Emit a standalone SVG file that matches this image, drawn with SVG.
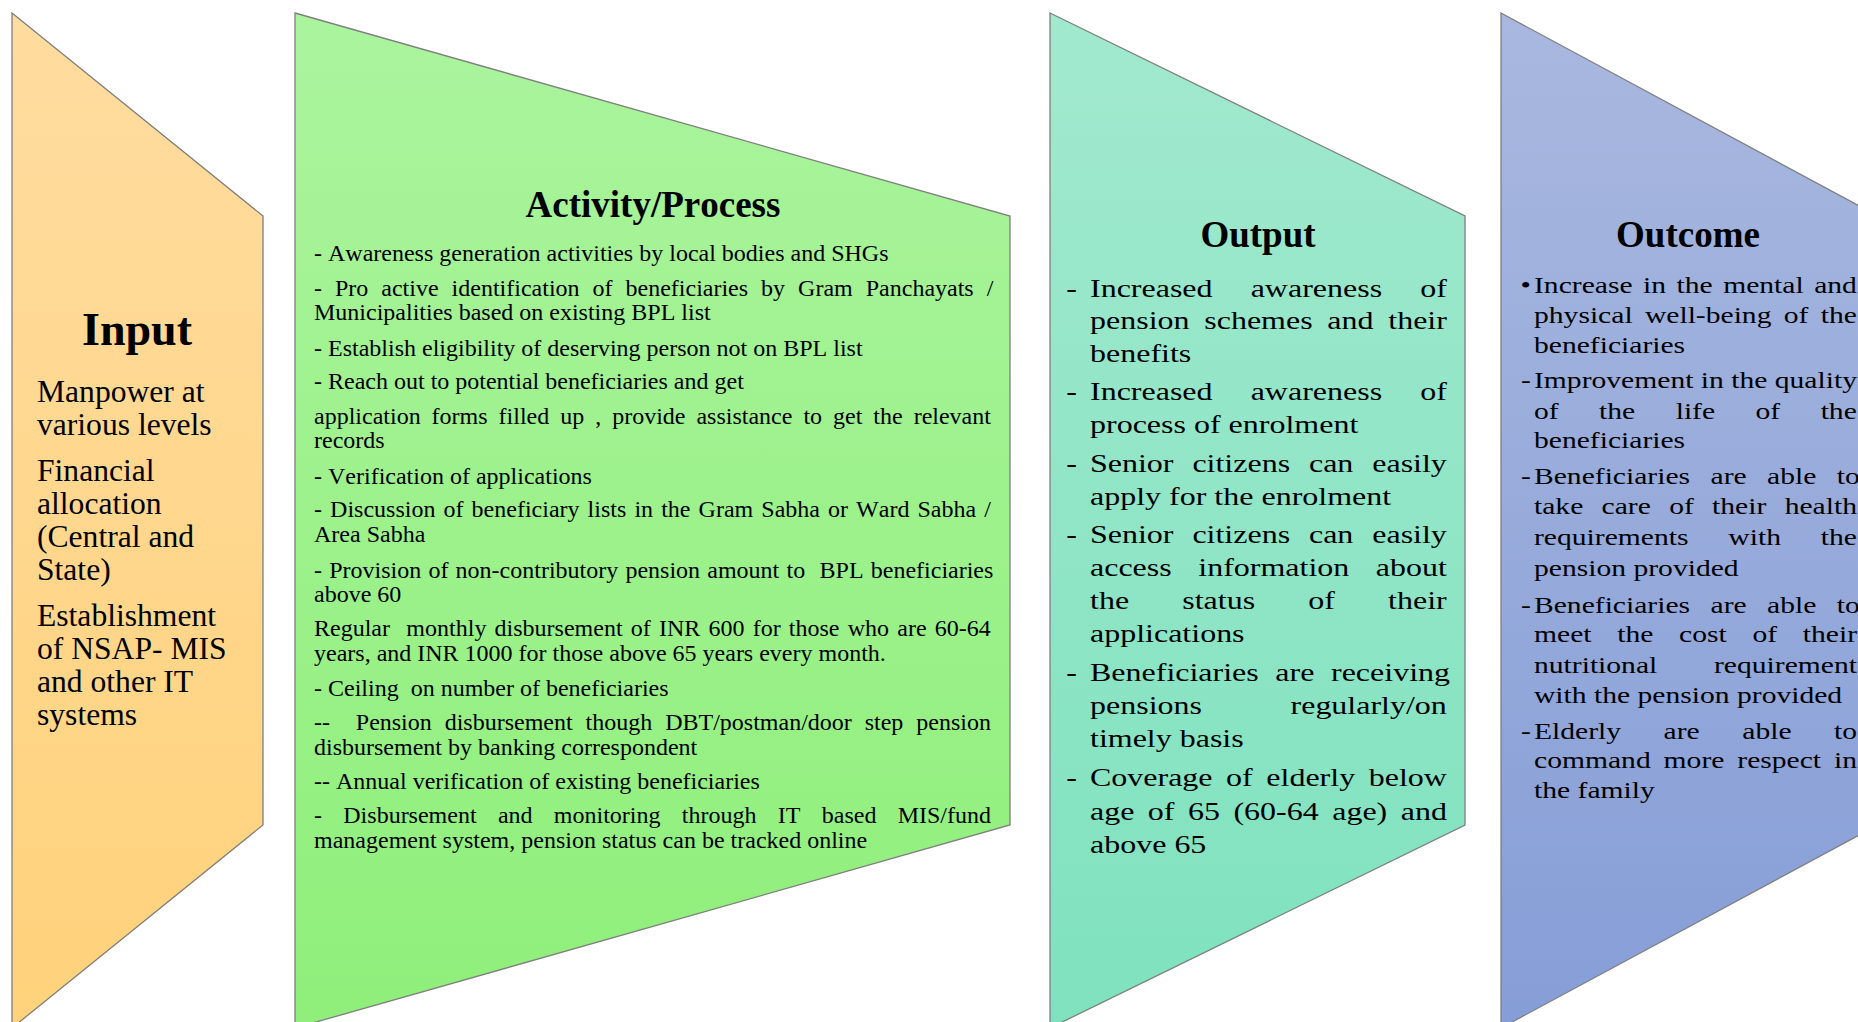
<svg xmlns="http://www.w3.org/2000/svg" width="1858" height="1022" viewBox="0 0 1858 1022">
  <defs>
    <linearGradient id="gInput" gradientUnits="userSpaceOnUse" x1="0" y1="0" x2="0" y2="1022">
      <stop offset="0" stop-color="#FFDCA0"/>
      <stop offset="1" stop-color="#FFD27B"/>
    </linearGradient>
    <linearGradient id="gActivity" gradientUnits="userSpaceOnUse" x1="0" y1="0" x2="0" y2="1022">
      <stop offset="0" stop-color="#ABF49E"/>
      <stop offset="1" stop-color="#8FEF7A"/>
    </linearGradient>
    <linearGradient id="gOutput" gradientUnits="userSpaceOnUse" x1="0" y1="0" x2="0" y2="1022">
      <stop offset="0" stop-color="#A2E9CE"/>
      <stop offset="1" stop-color="#7FE2BF"/>
    </linearGradient>
    <linearGradient id="gOutcome" gradientUnits="userSpaceOnUse" x1="0" y1="0" x2="0" y2="1022">
      <stop offset="0" stop-color="#A9B8DF"/>
      <stop offset="1" stop-color="#869ED7"/>
    </linearGradient>
  </defs>
  <style>
    .shape { stroke: #7F7F7F; stroke-width: 1.3; }
    text { font-family: "Liberation Serif", "Times New Roman", serif; fill: #000; font-kerning: none; font-variant-ligatures: none; }
    .title { font-weight: bold; font-size: 37px; text-anchor: middle; }
    .in { font-size: 31.6px; }
    .act { font-size: 24px; }
    .out { font-size: 25.5px; }
    .oc { font-size: 24px; }
    .pre { white-space: pre; }
  </style>

  <!-- stage shapes: slanted panels pointing right -->
  <g id="input">
    <polygon class="shape" fill="url(#gInput)" points="12,13 263,216 263,825 12,1028"/>
    <text class="title" x="137" y="345" style="font-size:46px">Input</text>
    <text class="in" x="37" y="402">Manpower at</text>
    <text class="in" x="37" y="435">various levels</text>
    <text class="in" x="37" y="481">Financial</text>
    <text class="in" x="37" y="514">allocation</text>
    <text class="in" x="37" y="547">(Central and</text>
    <text class="in" x="37" y="580">State)</text>
    <text class="in" x="37" y="626">Establishment</text>
    <text class="in" x="37" y="659">of NSAP- MIS</text>
    <text class="in" x="37" y="692">and other IT</text>
    <text class="in" x="37" y="725">systems</text>
  </g>

  <g id="activity">
    <polygon class="shape" fill="url(#gActivity)" points="295,13 1010,216 1010,825 295,1028"/>
    <text class="title" x="653" y="217">Activity/Process</text>
    <text class="act" x="314" y="261">- Awareness generation activities by local bodies and SHGs</text>
    <text class="act" x="314" y="296" style="word-spacing:6.99px">- Pro active identification of beneficiaries by Gram Panchayats /</text>
    <text class="act" x="314" y="320">Municipalities based on existing BPL list</text>
    <text class="act" x="314" y="356">- Establish eligibility of deserving person not on BPL list</text>
    <text class="act" x="314" y="389">- Reach out to potential beneficiaries and get</text>
    <text class="act" x="314" y="424" style="word-spacing:4.98px">application forms filled up , provide assistance to get the relevant</text>
    <text class="act" x="314" y="448">records</text>
    <text class="act" x="314" y="484">- Verification of applications</text>
    <text class="act" x="314" y="517" style="word-spacing:2.09px">- Discussion of beneficiary lists in the Gram Sabha or Ward Sabha /</text>
    <text class="act" x="314" y="542">Area Sabha</text>
    <text class="act pre" x="314" y="578" style="word-spacing:1.2px">- Provision of non-contributory pension amount to  BPL beneficiaries</text>
    <text class="act" x="314" y="602">above 60</text>
    <text class="act pre" x="314" y="636" style="word-spacing:2.2px">Regular  monthly disbursement of INR 600 for those who are 60-64</text>
    <text class="act" x="314" y="661">years, and INR 1000 for those above 65 years every month.</text>
    <text class="act pre" x="314" y="696">- Ceiling  on number of beneficiaries</text>
    <text class="act pre" x="314" y="730" style="word-spacing:6.9px">--  Pension disbursement though DBT/postman/door step pension</text>
    <text class="act" x="314" y="755">disbursement by banking correspondent</text>
    <text class="act" x="314" y="789">-- Annual verification of existing beneficiaries</text>
    <text class="act" x="314" y="823" style="word-spacing:15.3px">- Disbursement and monitoring through IT based MIS/fund</text>
    <text class="act" x="314" y="848">management system, pension status can be tracked online</text>
  </g>

  <g id="output">
    <polygon class="shape" fill="url(#gOutput)" points="1050,13 1465,216 1465,825 1050,1028"/>
    <text class="title" x="1258" y="247">Output</text>
    <g transform="translate(1090 0) scale(1.255 1)">
      <text class="out" x="-19" y="297">-</text>
      <text class="out" x="0" y="297" style="word-spacing:24px">Increased awareness of</text>
      <text class="out" x="0" y="329.5" style="word-spacing:5.37px">pension schemes and their</text>
      <text class="out" x="0" y="362">benefits</text>
      <text class="out" x="-19" y="400.5">-</text>
      <text class="out" x="0" y="400.5" style="word-spacing:24px">Increased awareness of</text>
      <text class="out" x="0" y="433.5">process of enrolment</text>
      <text class="out" x="-19" y="472">-</text>
      <text class="out" x="0" y="472" style="word-spacing:8.67px">Senior citizens can easily</text>
      <text class="out" x="0" y="505.5">apply for the enrolment</text>
      <text class="out" x="-19" y="543.5">-</text>
      <text class="out" x="0" y="543.5" style="word-spacing:8.67px">Senior citizens can easily</text>
      <text class="out" x="0" y="576.5" style="word-spacing:14.8px">access information about</text>
      <text class="out" x="0" y="609.5" style="word-spacing:36px">the status of their</text>
      <text class="out" x="0" y="642.5">applications</text>
      <text class="out" x="-19" y="681">-</text>
      <text class="out" x="0" y="681" style="word-spacing:6.87px">Beneficiaries are receiving</text>
      <text class="out" x="0" y="714.5" style="word-spacing:64.2px">pensions regularly/on</text>
      <text class="out" x="0" y="747.5">timely basis</text>
      <text class="out" x="-19" y="786">-</text>
      <text class="out" x="0" y="786" style="word-spacing:4.43px">Coverage of elderly below</text>
      <text class="out" x="0" y="820" style="word-spacing:4.36px">age of 65 (60-64 age) and</text>
      <text class="out" x="0" y="853">above 65</text>
    </g>
  </g>

  <g id="outcome">
    <polygon class="shape" fill="url(#gOutcome)" points="1501,13 1878,216 1878,825 1501,1028"/>
    <text class="title" x="1688" y="247">Outcome</text>
    <g transform="translate(1534 0) scale(1.233 1)">
      <text class="oc" x="-11" y="293.5">•</text>
      <text class="oc" x="0" y="293.5" style="word-spacing:2.5px">Increase in the mental and</text>
      <text class="oc" x="0" y="323.5" style="word-spacing:4px">physical well-being of the</text>
      <text class="oc" x="0" y="353.5">beneficiaries</text>
      <text class="oc" x="-10.5" y="388.5">-</text>
      <text class="oc" x="0" y="388.5">Improvement in the quality</text>
      <text class="oc" x="0" y="419" style="word-spacing:26.8px">of the life of the</text>
      <text class="oc" x="0" y="448.5">beneficiaries</text>
      <text class="oc" x="-10.5" y="484">-</text>
      <text class="oc" x="0" y="484" style="word-spacing:10.6px">Beneficiaries are able to</text>
      <text class="oc" x="0" y="514.5" style="word-spacing:8.85px">take care of their health</text>
      <text class="oc" x="0" y="545.5" style="word-spacing:26.35px">requirements with the</text>
      <text class="oc" x="0" y="576.5">pension provided</text>
      <text class="oc" x="-10.5" y="613">-</text>
      <text class="oc" x="0" y="613" style="word-spacing:10.6px">Beneficiaries are able to</text>
      <text class="oc" x="0" y="642.5" style="word-spacing:14.85px">meet the cost of their</text>
      <text class="oc" x="0" y="673.5" style="word-spacing:40px">nutritional requirement</text>
      <text class="oc" x="0" y="703">with the pension provided</text>
      <text class="oc" x="-10.5" y="739">-</text>
      <text class="oc" x="0" y="739" style="word-spacing:28.5px">Elderly are able to</text>
      <text class="oc" x="0" y="768.5" style="word-spacing:4.47px">command more respect in</text>
      <text class="oc" x="0" y="798">the family</text>
    </g>
  </g>

  <!-- the stages touch only by placement; no drawn links -->
  <g id="connectors"/>
</svg>
